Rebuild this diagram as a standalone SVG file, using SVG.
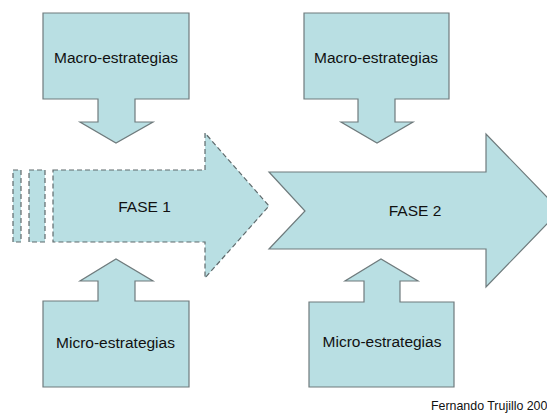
<svg xmlns="http://www.w3.org/2000/svg" width="547" height="418" viewBox="0 0 547 418">
<style>
.shape{fill:#b9dfe3;stroke:#6f7b7d;stroke-width:1.2;stroke-linejoin:miter}
.dashed{fill:#b9dfe3;stroke:#5f6a6c;stroke-width:1.2;stroke-dasharray:5 3}
.lbl{font-family:"Liberation Sans",Arial,sans-serif;font-size:15.5px;fill:#111;text-anchor:middle}
.credit{font-family:"Liberation Sans",Arial,sans-serif;font-size:12.4px;fill:#111}
</style>
<rect width="547" height="418" fill="#ffffff"/>
<g id="fase1">
<rect class="dashed" x="13" y="170" width="8" height="72"/>
<rect class="dashed" x="29" y="170" width="16" height="72"/>
<path class="dashed" d="M53,170 H205 V133 L269,206 L205,278 V242 H53 Z"/>
<text class="lbl" x="144.5" y="212">FASE 1</text>
</g>
<g id="fase2">
<path class="shape" d="M269,172 H486 V134 L560,210.5 L486,287 V249 H269 L305,211 Z"/>
<text class="lbl" x="415" y="216">FASE 2</text>
</g>
<g id="macro1">
<path class="shape" d="M43,13 H189 V99 H135 V122 H153 L116,143 L80,122 H98 V99 H43 Z"/>
<text class="lbl" x="116" y="63">Macro-estrategias</text>
</g>
<g id="macro2">
<path class="shape" d="M304,13 H449 V99 H395 V122 H413 L377,143 L341,122 H358 V99 H304 Z"/>
<text class="lbl" x="376" y="63">Macro-estrategias</text>
</g>
<g id="micro1">
<path class="shape" d="M43,301 H98 V281 H80 L116,259 L153,281 H135 V301 H189 V387 H43 Z"/>
<text class="lbl" x="115.5" y="348">Micro-estrategias</text>
</g>
<g id="micro2">
<path class="shape" d="M309,302 H364 V281 H345 L381,259 L418,281 H400 V302 H454 V387 H309 Z"/>
<text class="lbl" x="382" y="347">Micro-estrategias</text>
</g>
<g id="connectors"></g>
<text class="credit" x="431" y="410">Fernando Trujillo 200</text>
</svg>
